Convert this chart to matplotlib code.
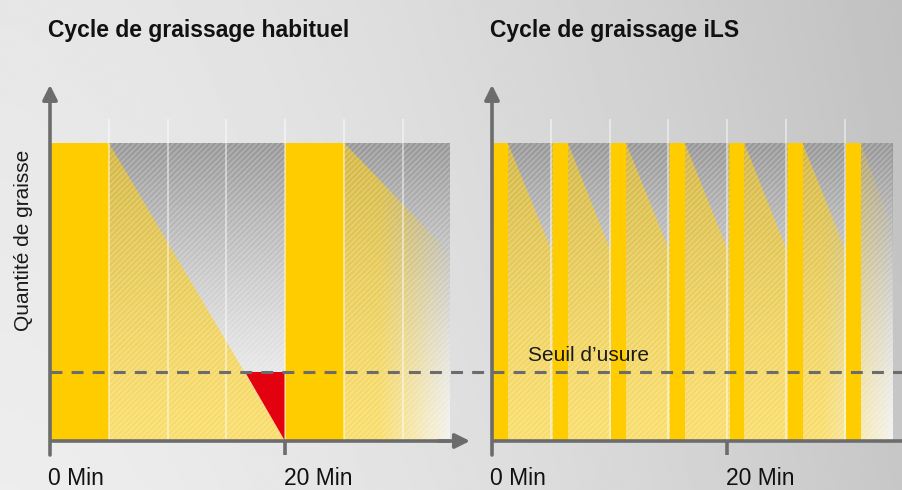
import numpy as np
import matplotlib
matplotlib.use('Agg')
import matplotlib.pyplot as plt
from matplotlib.patches import Rectangle

# values: time in minutes, grease level in % of full
seuil = 23
grid_min = [5, 10, 15, 20, 25, 30]
tick_min = [0, 20]
tick_labels = ['0 Min', '20 Min']

# usual cycle: one refill every 20 min
hab_time = [0, 5, 20, 20, 25, 34]
hab_level = [100, 100, 0, 100, 100, 63]
hab_bar_start = [0, 20]
hab_bar_width = [5, 5]

# iLS cycle: small refill every 5 min
ils_time = [0, 1.35, 5.05, 5.05, 6.45, 10.05, 10.05, 11.4, 15.05, 15.05, 16.4, 20.05,
            20.05, 21.45, 25.05, 25.05, 26.4, 30.05, 30.05, 31.35, 34]
ils_level = [100, 100, 64, 100, 100, 64, 100, 100, 64, 100, 100, 64,
             100, 100, 64, 100, 100, 64, 100, 100, 72]
ils_bar_start = [0.1, 5.2, 10.15, 15.15, 20.2, 25.15, 30.1]
ils_bar_width = [1.25] * 7

YELLOW = '#ffcc00'
RED = '#e3000f'
AXC = '#6c6c6c'
FONT = ['Liberation Sans', 'DejaVu Sans']
plt.rcParams['hatch.linewidth'] = 1.3

W, H = 902, 490
fig = plt.figure(figsize=(W / 100, H / 100), dpi=100)

# background: light grey, darker towards the right
bg = fig.add_axes([0, 0, 1, 1], zorder=0)
xx, yy = np.meshgrid(np.linspace(0, 1, 300), np.linspace(0, 1, 200))
light = 0.905 + 0.025 * yy - 0.15 * xx ** 1.6
bg.imshow(light, cmap='gray', vmin=0, vmax=1, aspect='auto', extent=(0, 1, 0, 1))
bg.axis('off')


def panel(left_px, time, level, bar_start, bar_width, arrow_x):
    ax = fig.add_axes([left_px / W, 49 / H, 400 / W, 298 / H], zorder=1)
    ax.patch.set_visible(False)

    # grey area, fading to white towards the bottom
    g = np.linspace(100, 0, 200)[:, None]
    shade = 0.95 - 0.36 * (g / 100) ** 1.4
    ax.imshow(np.repeat(shade, 2, axis=1), cmap='gray', vmin=0, vmax=1,
              extent=(0, 34, 0, 100), aspect='auto', zorder=1)

    # translucent yellow under the grease curve, fading out on the right
    poly, = ax.fill(time + [34, 0], level + [0, 0], facecolor='none',
                    edgecolor='none', zorder=2)
    tt = np.linspace(0, 34, 400)
    rgba = np.zeros((1, 400, 4))
    rgba[..., 0] = 1.0
    rgba[..., 1] = 0.8
    rgba[..., 3] = np.clip((34 - tt) / 6, 0, 1) * 0.55 + 0.02
    im = ax.imshow(rgba, extent=(0, 34, 0, 100), aspect='auto', zorder=2)
    im.set_clip_path(poly)

    ax.add_patch(Rectangle((0, 0), 34, 100, fill=False, hatch='//////',
                           edgecolor=(1, 1, 1, 0.22), lw=0, zorder=3))

    ax.bar(bar_start, 100, width=bar_width, align='edge', color=YELLOW, lw=0, zorder=4)
    ax.vlines(grid_min, 0, 108, colors='white', alpha=0.5, lw=1.3, zorder=5, clip_on=False)

    # axes with arrows
    ax.plot([0, arrow_x], [0, 0], color=AXC, lw=2.6, zorder=7, clip_on=False,
            solid_capstyle='butt')
    ax.annotate('', xy=(0, 119.5), xytext=(0, -4.7),
                arrowprops=dict(arrowstyle='-|>', color=AXC, lw=2.6,
                                mutation_scale=22, shrinkA=0, shrinkB=0),
                zorder=7, annotation_clip=False)
    ax.vlines(tick_min[1:], -4.7, 0, colors=AXC, lw=2.6, zorder=7, clip_on=False)
    for t, lab in zip(tick_min, tick_labels):
        ax.text(t - 0.15, -14.8, lab, fontsize=16.5, family=FONT, color='#111111',
                ha='left', va='baseline', clip_on=False)

    ax.set_xlim(0, 34)
    ax.set_ylim(0, 100)
    ax.axis('off')
    return ax


ax1 = panel(50, hab_time, hab_level, hab_bar_start, hab_bar_width, 34)
ax1.annotate('', xy=(35.7, 0), xytext=(33, 0),
             arrowprops=dict(arrowstyle='-|>', color=AXC, lw=2.6,
                             mutation_scale=22, shrinkA=0, shrinkB=0),
             zorder=7, annotation_clip=False)

# red zone: grease below the wear threshold before the next refill
t_cross = np.interp(seuil, [hab_level[2], hab_level[1]], [hab_time[2], hab_time[1]])
ax1.fill([t_cross, hab_time[2], hab_time[2]], [seuil, seuil, 0], color=RED, lw=0, zorder=4)
ax1.plot([0, 37.6], [seuil, seuil], color=AXC, lw=2.2, ls=(0, (3.9, 3.0)),
         zorder=6, clip_on=False)

ax2 = panel(492, ils_time, ils_level, ils_bar_start, ils_bar_width, 36)
ax2.plot([0, 35.5], [seuil, seuil], color=AXC, lw=2.2, ls=(0, (3.9, 3.0)),
         zorder=6, clip_on=False)
ax2.text(3.05, 26.8, 'Seuil d\u2019usure', fontsize=15, family=FONT, color='#1a1a1a',
         ha='left', va='baseline', zorder=8)

fig.text(48 / W, 1 - 37 / H, 'Cycle de graissage habituel', fontsize=16.5, fontweight='bold',
         family=FONT, color='#111111', ha='left', va='baseline')
fig.text(490 / W, 1 - 37 / H, 'Cycle de graissage iLS', fontsize=16.5, fontweight='bold',
         family=FONT, color='#111111', ha='left', va='baseline')
fig.text(24 / W, 1 - 240 / H, 'Quantit\u00e9 de graisse', fontsize=15, family=FONT,
         color='#1a1a1a', rotation=90, ha='center', va='center')

fig.savefig('out.png', dpi=100)
